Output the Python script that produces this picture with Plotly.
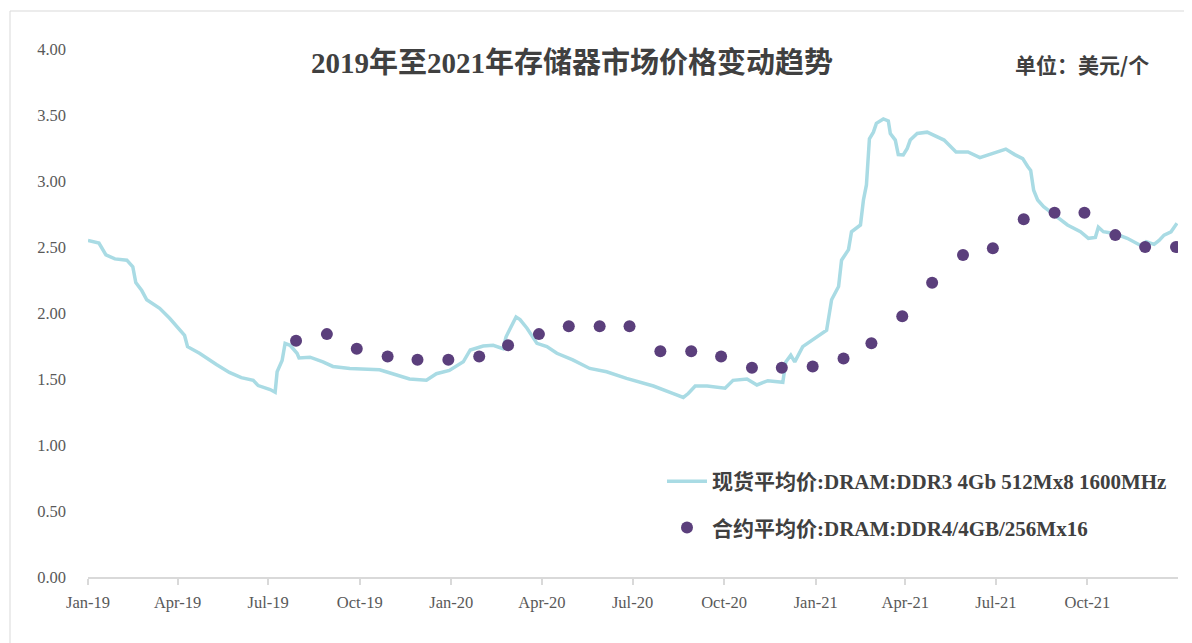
import plotly.graph_objects as go

# ---------------- data ----------------
spot_dates = [
    "2019-01-01", "2019-01-12", "2019-01-19", "2019-01-28", "2019-02-09", "2019-02-15",
    "2019-02-18", "2019-02-24", "2019-03-01", "2019-03-14", "2019-03-24", "2019-03-31",
    "2019-04-08", "2019-04-11", "2019-04-23", "2019-05-10", "2019-05-23", "2019-06-04",
    "2019-06-16", "2019-06-21", "2019-07-03", "2019-07-08", "2019-07-10", "2019-07-15",
    "2019-07-18", "2019-07-23", "2019-07-30", "2019-08-01", "2019-08-12", "2019-08-25",
    "2019-09-04", "2019-09-21", "2019-10-21", "2019-11-03", "2019-11-20", "2019-12-07",
    "2019-12-17", "2019-12-30", "2020-01-13", "2020-01-20", "2020-02-02", "2020-02-12",
    "2020-02-22", "2020-02-25", "2020-03-06", "2020-03-10", "2020-03-17", "2020-03-27",
    "2020-04-06", "2020-04-16", "2020-05-02", "2020-05-19", "2020-06-05", "2020-06-25",
    "2020-07-22", "2020-08-11", "2020-08-21", "2020-08-26", "2020-09-02", "2020-09-14",
    "2020-10-02", "2020-10-10", "2020-10-24", "2020-11-03", "2020-11-14", "2020-11-29",
    "2020-12-02", "2020-12-07", "2020-12-11", "2020-12-19", "2020-12-31", "2021-01-12",
    "2021-01-17", "2021-01-24", "2021-01-27", "2021-02-03", "2021-02-06", "2021-02-15",
    "2021-02-18", "2021-02-21", "2021-02-24", "2021-02-28", "2021-03-03", "2021-03-10",
    "2021-03-15", "2021-03-17", "2021-03-22", "2021-03-25", "2021-03-30", "2021-04-03",
    "2021-04-06", "2021-04-13", "2021-04-23", "2021-05-03", "2021-05-10", "2021-05-22",
    "2021-06-03", "2021-06-15", "2021-06-23", "2021-07-03", "2021-07-11", "2021-07-20",
    "2021-07-28", "2021-08-02", "2021-08-05", "2021-08-08", "2021-08-12", "2021-08-18",
    "2021-08-30", "2021-09-11", "2021-09-24", "2021-10-02", "2021-10-09", "2021-10-12",
    "2021-10-17", "2021-10-29", "2021-11-10", "2021-11-24", "2021-11-29", "2021-12-07",
    "2021-12-12", "2021-12-17", "2021-12-24", "2021-12-30",
]
spot_values = [
    2.55, 2.53, 2.44, 2.41, 2.40, 2.35,
    2.23, 2.17, 2.10, 2.035, 1.96, 1.90,
    1.83, 1.745, 1.695, 1.61, 1.55, 1.51,
    1.49, 1.45, 1.42, 1.40, 1.555, 1.64,
    1.77, 1.755, 1.695, 1.66, 1.665, 1.63,
    1.595, 1.58, 1.57, 1.54, 1.50, 1.49,
    1.54, 1.565, 1.63, 1.72, 1.75, 1.755,
    1.73, 1.82, 1.97, 1.95, 1.885, 1.77,
    1.745, 1.695, 1.645, 1.58, 1.555, 1.505,
    1.447, 1.39, 1.36, 1.39, 1.447, 1.447,
    1.43, 1.49, 1.50, 1.455, 1.487, 1.475,
    1.63, 1.68, 1.63, 1.745, 1.81, 1.87,
    2.10, 2.20, 2.40, 2.48, 2.615, 2.667,
    2.856, 2.97, 3.32, 3.37, 3.437, 3.47,
    3.455, 3.36, 3.31, 3.20, 3.197, 3.247,
    3.31, 3.36, 3.37, 3.335, 3.31, 3.22,
    3.22, 3.177, 3.197, 3.22, 3.242, 3.20,
    3.17, 3.11, 3.08, 2.93, 2.856, 2.805,
    2.74, 2.667, 2.616, 2.566, 2.573, 2.65,
    2.616, 2.60, 2.566, 2.51, 2.54, 2.52,
    2.55, 2.59, 2.615, 2.68,
]

contract_dates = [
    "2019-07-29", "2019-08-29", "2019-09-28", "2019-10-29", "2019-11-28", "2019-12-29",
    "2020-01-29", "2020-02-27", "2020-03-29", "2020-04-28", "2020-05-29", "2020-06-28",
    "2020-07-29", "2020-08-29", "2020-09-28", "2020-10-29", "2020-11-28", "2020-12-29",
    "2021-01-29", "2021-02-26", "2021-03-29", "2021-04-28", "2021-05-29", "2021-06-28",
    "2021-07-29", "2021-08-29", "2021-09-28", "2021-10-29", "2021-11-28", "2021-12-29",
]
contract_values = [
    1.79, 1.84, 1.73, 1.67, 1.645, 1.645,
    1.67, 1.755, 1.84, 1.90, 1.90, 1.90,
    1.71, 1.71, 1.67, 1.585, 1.585, 1.595,
    1.655, 1.77, 1.975, 2.23, 2.44, 2.49,
    2.71, 2.76, 2.76, 2.59, 2.50, 2.50,
]

x_tick_vals = ["2019-01-01", "2019-04-01", "2019-07-01", "2019-10-01",
               "2020-01-01", "2020-04-01", "2020-07-01", "2020-10-01",
               "2021-01-01", "2021-04-01", "2021-07-01", "2021-10-01"]
x_tick_text = ["Jan-19", "Apr-19", "Jul-19", "Oct-19", "Jan-20", "Apr-20",
               "Jul-20", "Oct-20", "Jan-21", "Apr-21", "Jul-21", "Oct-21"]
y_tick_vals = [0, 0.5, 1, 1.5, 2, 2.5, 3, 3.5, 4]

title_text = "2019年至2021年存储器市场价格变动趋势"
unit_text = "单位：美元/个"
spot_name = "现货平均价:DRAM:DDR3 4Gb 512Mx8 1600MHz"
contract_name = "合约平均价:DRAM:DDR4/4GB/256Mx16"

# ---------------- figure ----------------
SERIF = "Liberation Serif, Noto Sans CJK SC, serif"
LINE_COLOR = "#A9DBE4"
DOT_COLOR = "#5B3F7C"
TEXT_COLOR = "#404040"

fig = go.Figure()
fig.add_trace(go.Scatter(
    x=spot_dates, y=spot_values, mode="lines", name="<b>" + spot_name + "</b>",
    line=dict(color=LINE_COLOR, width=3.5), legendgroup="a",
))
fig.add_trace(go.Scatter(
    x=contract_dates, y=contract_values, mode="markers", name="<b>" + contract_name + "</b>",
    marker=dict(color=DOT_COLOR, size=12), legendgroup="b",
))

# page places the figure at (8, 8); plot area in page pixels: x 88..1178, y 49..577
W, H = 1192, 643
OFF = 8
PL, PR, PT, PB = 88, 1178, 49, 577
L, T = PL - OFF, PT - OFF
R, B = W - (PR - OFF), H - (PB - OFF)

def px(xp):
    return (xp - PL) / (PR - PL)

def py(yp):
    return (PB - yp) / (PB - PT)

fig.update_layout(
    width=W, height=H,
    margin=dict(l=L, r=R, t=T, b=B),
    paper_bgcolor="white", plot_bgcolor="white",
    font=dict(family=SERIF, color="#595959", size=16),
    showlegend=True,
    legend=dict(
        x=px(662), y=py(461), xanchor="left", yanchor="top",
        bgcolor="rgba(0,0,0,0)",
        font=dict(family=SERIF, size=21, color=TEXT_COLOR),
        traceorder="grouped", tracegroupgap=16,
        itemwidth=40,
    ),
    xaxis=dict(
        type="date", range=["2019-01-01", "2021-12-31"],
        tickvals=x_tick_vals, ticktext=x_tick_text,
        showline=True, linecolor="#D9D9D9", linewidth=1.5,
        ticks="outside", tickcolor="#D9D9D9", ticklen=6, tickwidth=1.5,
        showgrid=False, zeroline=False,
        tickfont=dict(family=SERIF, size=16.5, color="#595959"),
        ticklabelstandoff=3,
    ),
    yaxis=dict(
        range=[0, 4], tickvals=y_tick_vals, tickformat=".2f",
        showline=False, showgrid=False, zeroline=False,
        ticks="", tickfont=dict(family=SERIF, size=16.5, color="#595959"),
        ticklabelstandoff=21,
    ),
    annotations=[
        dict(text="<b>" + title_text + "</b>", x=px(572), y=py(63),
             xref="paper", yref="paper", xanchor="center", yanchor="middle",
             showarrow=False, font=dict(family=SERIF, size=29, color=TEXT_COLOR)),
        dict(text="<b>" + unit_text + "</b>", x=px(1082), y=py(64),
             xref="paper", yref="paper", xanchor="center", yanchor="middle",
             showarrow=False, font=dict(family="Noto Sans CJK SC, sans-serif", size=21, color=TEXT_COLOR)),
    ],
    shapes=[
        dict(type="rect", xref="paper", yref="paper",
             x0=px(10), x1=px(1210), y0=py(670), y1=py(11),
             line=dict(color="#D9D9D9", width=1), fillcolor="rgba(0,0,0,0)", layer="below"),
    ],
)

fig.write_html("out.html")
